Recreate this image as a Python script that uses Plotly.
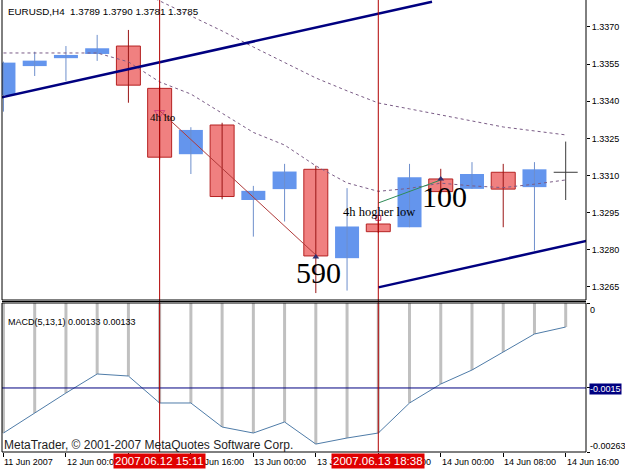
import plotly.graph_objects as go

W, H = 625, 469

# ---------------- data ----------------
bars = list(range(19))
opens = [1.33425, 1.33542, 1.33574, 1.33591, 1.33623, 1.33452, 1.33186, 1.33304, 1.33001, 1.33045,
         1.33125, 1.32766, 1.32904, 1.32891, 1.33086, 1.33046, 1.33113, 1.33053, 1.33113]
highs = [1.33560, 1.33600, 1.33623, 1.33668, 1.33688, 1.33460, 1.33295, 1.33313, 1.33058, 1.33147,
         1.33139, 1.33049, 1.32930, 1.33147, 1.33127, 1.33154, 1.33147, 1.33154, 1.33237]
lows = [1.33358, 1.33502, 1.33482, 1.33563, 1.33394, 1.33165, 1.33106, 1.33004, 1.32853, 1.32914,
        1.32625, 1.32635, 1.32868, 1.32891, 1.33028, 1.33046, 1.32891, 1.32797, 1.33001]
closes = [1.33556, 1.33564, 1.33587, 1.33614, 1.33465, 1.33174, 1.33284, 1.33015, 1.33038, 1.33116,
          1.32775, 1.32894, 1.32873, 1.33093, 1.33035, 1.33106, 1.33045, 1.33125, 1.33113]

ma_upper_bars = list(range(4, 19))
ma_upper = [1.33866, 1.33805, 1.33744, 1.33684, 1.33619, 1.33555, 1.33494, 1.33442, 1.33393,
            1.33369, 1.33345, 1.33320, 1.33296, 1.33280, 1.33264]
ma_lower = [1.33595, 1.33595, 1.33595, 1.33595, 1.33559, 1.33478, 1.33429, 1.33353, 1.33274, 1.33223,
            1.33139, 1.33070, 1.33036, 1.33048, 1.33069, 1.33058, 1.33051, 1.33065, 1.33082]

macd = [-0.002295, -0.001942, -0.001589, -0.001253, -0.001289, -0.001765, -0.001765, -0.002189,
        -0.002295, -0.002100, -0.002490, -0.002383, -0.002295, -0.001765, -0.001430, -0.001183,
        -0.000865, -0.000547, -0.000424]

time_tick_bars = [0, 2, 4, 6, 8, 10, 12, 14, 16, 18]
time_labels = ["11 Jun 2007", "12 Jun 00:00", "12 Jun 08:00", "12 Jun 16:00", "13 Jun 00:00",
               "13 Jun 08:00", "13 Jun 16:00", "14 Jun 00:00", "14 Jun 08:00", "14 Jun 16:00"]
price_ticks = [1.3265, 1.3280, 1.3295, 1.3310, 1.3325, 1.3340, 1.3355, 1.3370]
macd_levels = [0.0, -0.0015, -0.00263]
macd_level_labels = ["0", "-0.0015", "-0.00263"]

event_bars = [5, 12]
event_labels = ["2007.06.12 15:11", "2007.06.13 18:38"]

trend_upper_x = [-0.111, 13.72]
trend_upper_y = [1.33414, 1.33802]
trend_lower_x = [12.0, 18.7]
trend_lower_y = [1.32648, 1.32837]

link_red_x = [5, 10]
link_red_y = [1.33362, 1.32779]
link_green_x = [12, 14]
link_green_y = [1.32989, 1.33082]

notes = [("4h lto", 4.63, 1.33338, 11), ("4h hogher low", 10.82, 1.32952, 12.5),
         ("590", 10.1, 1.32707, 30), ("100", 14.12, 1.33015, 30)]

header = "EURUSD,H4\u00a0\u00a01.3789 1.3790 1.3781 1.3785"
macd_title = "MACD(5,13,1) 0.00133 0.00133"
copyright_text = "MetaTrader, © 2001-2007 MetaQuotes Software Corp."

# ---------------- layout helpers ----------------
def fx(px):
    return px / W

def fy(py):
    return 1 - py / H

X_L, X_R = 2, 586
TOP_B = 300
MACD_T, MACD_B = 303, 452
BODY_W = 0.768

BULL_FILL = "#6495ED"
BULL_WICK = "#6E8FCC"
BEAR_FILL = "#F08080"
BEAR_EDGE = "#B52222"
BEAR_WICK = "#9A1515"
DOJI = "#3A3A3A"
SANS = "Liberation Sans, Arial, sans-serif"
SERIF = "Liberation Serif, Times New Roman, serif"

fig = go.Figure()

# ---------------- MACD panel ----------------
fig.add_trace(go.Bar(x=bars, y=macd, base=0, width=0.096, marker=dict(color="#C0C0C0", line=dict(width=0)),
                     xaxis="x", yaxis="y2", hoverinfo="skip"))
fig.add_trace(go.Scatter(x=bars, y=macd, mode="lines", line=dict(color="#4F7CA8", width=1),
                         xaxis="x", yaxis="y2", hoverinfo="skip"))
fig.add_trace(go.Scatter(x=[-1, 20], y=[macd_levels[1], macd_levels[1]], mode="lines",
                         line=dict(color="#000080", width=1), xaxis="x", yaxis="y2", hoverinfo="skip"))

# ---------------- candles ----------------
def wick_xy(kind):
    xs, ys = [], []
    for i in bars:
        o, c = opens[i], closes[i]
        k = "doji" if o == c else ("bull" if c > o else "bear")
        if k == kind:
            xs += [i, i, None]
            ys += [lows[i], highs[i], None]
    return xs, ys

for kind, col in (("bull", BULL_WICK), ("bear", BEAR_WICK), ("doji", DOJI)):
    wx, wy = wick_xy(kind)
    fig.add_trace(go.Scatter(x=wx, y=wy, mode="lines", line=dict(color=col, width=1),
                             xaxis="x2", yaxis="y", hoverinfo="skip"))

bull_i = [i for i in bars if closes[i] > opens[i]]
bear_i = [i for i in bars if closes[i] < opens[i]]
doji_i = [i for i in bars if closes[i] == opens[i]]

fig.add_trace(go.Bar(x=bull_i, base=[opens[i] for i in bull_i], y=[closes[i] - opens[i] for i in bull_i],
                     width=BODY_W, marker=dict(color=BULL_FILL, line=dict(width=0)),
                     xaxis="x2", yaxis="y", hoverinfo="skip"))
fig.add_trace(go.Bar(x=bear_i, base=[closes[i] for i in bear_i], y=[opens[i] - closes[i] for i in bear_i],
                     width=BODY_W, marker=dict(color=BEAR_FILL, line=dict(color=BEAR_EDGE, width=1)),
                     xaxis="x2", yaxis="y", hoverinfo="skip"))
dx, dy = [], []
for i in doji_i:
    dx += [i - BODY_W / 2, i + BODY_W / 2, None]
    dy += [opens[i], opens[i], None]
fig.add_trace(go.Scatter(x=dx, y=dy, mode="lines", line=dict(color=DOJI, width=1),
                         xaxis="x2", yaxis="y", hoverinfo="skip"))

# moving averages (dashed)
fig.add_trace(go.Scatter(x=ma_upper_bars, y=ma_upper, mode="lines",
                         line=dict(color="#7A5C86", width=1, dash="3px,3px"),
                         xaxis="x2", yaxis="y", hoverinfo="skip"))
fig.add_trace(go.Scatter(x=bars, y=ma_lower, mode="lines",
                         line=dict(color="#7A5C86", width=1, dash="3px,3px"),
                         xaxis="x2", yaxis="y", hoverinfo="skip"))

# trend lines
fig.add_trace(go.Scatter(x=trend_upper_x, y=trend_upper_y, mode="lines", line=dict(color="#000080", width=2.5),
                         xaxis="x2", yaxis="y", hoverinfo="skip"))
fig.add_trace(go.Scatter(x=trend_lower_x, y=trend_lower_y, mode="lines", line=dict(color="#000080", width=2.5),
                         xaxis="x2", yaxis="y", hoverinfo="skip"))
fig.add_trace(go.Scatter(x=link_red_x, y=link_red_y, mode="lines", line=dict(color="#B03A3A", width=1),
                         xaxis="x2", yaxis="y", hoverinfo="skip"))
fig.add_trace(go.Scatter(x=link_green_x, y=link_green_y, mode="lines", line=dict(color="#2E8B57", width=1),
                         xaxis="x2", yaxis="y", hoverinfo="skip"))

# small arrow symbols
fig.add_trace(go.Scatter(x=[5], y=[1.33353], mode="markers",
                         marker=dict(symbol="triangle-down-open", size=9, color="#D0407A", line=dict(width=1)),
                         xaxis="x2", yaxis="y", hoverinfo="skip"))
fig.add_trace(go.Scatter(x=[10, 14], y=[1.32771, 1.33086], mode="markers",
                         marker=dict(symbol="triangle-up", size=6, color="#303070"),
                         xaxis="x2", yaxis="y", hoverinfo="skip"))
fig.add_trace(go.Scatter(x=[12], y=[1.32929], mode="markers",
                         marker=dict(symbol="square-open", size=5, color="#C03060", line=dict(width=1)),
                         xaxis="x2", yaxis="y", hoverinfo="skip"))

# ---------------- shapes ----------------
shapes = []
for b in event_bars:
    shapes.append(dict(type="line", xref="x", yref="paper", x0=b, x1=b, y0=fy(MACD_B), y1=1,
                       line=dict(color="#B00000", width=1), layer="above"))
for (x0, y0, x1, y1) in [
    (X_L, 0, X_L, TOP_B), (X_R, 0, X_R, TOP_B), (X_L, TOP_B, X_R, TOP_B),
    (X_L, MACD_T, X_R, MACD_T), (X_L, MACD_T, X_L, MACD_B), (X_R, MACD_T, X_R, MACD_B),
    (X_L, MACD_B, X_R, MACD_B), (X_L, TOP_B + 1.5, X_R, TOP_B + 1.5),
]:
    shapes.append(dict(type="line", xref="paper", yref="paper", x0=fx(x0), x1=fx(x1), y0=fy(y0), y1=fy(y1),
                       line=dict(color="black", width=1), layer="above"))

# ---------------- annotations ----------------
ann = []
ann.append(dict(text=header, xref="paper", yref="paper", x=fx(6), y=fy(11), xanchor="left", yanchor="middle",
                showarrow=False, font=dict(family=SANS, size=9.8, color="black")))
ann.append(dict(text=macd_title, xref="paper", yref="paper", x=fx(6), y=fy(322), xanchor="left",
                yanchor="middle", showarrow=False, font=dict(family=SANS, size=9, color="black")))
for t, bx, py, sz in notes:
    ann.append(dict(text=t, xref="x2", yref="y", x=bx, y=py, xanchor="left" if sz < 20 else "center",
                    yanchor="middle", showarrow=False, font=dict(family=SERIF, size=sz, color="black")))
ann.append(dict(text=copyright_text, xref="paper", yref="paper", x=fx(2), y=fy(445), xanchor="left",
                yanchor="middle", showarrow=False, font=dict(family=SANS, size=12, color="#1E1E1E")))
for b, lab in zip(time_tick_bars, time_labels):
    ann.append(dict(text=lab, xref="x", yref="paper", x=b, y=fy(461.5), xanchor="left", yanchor="middle",
                    xshift=-1, showarrow=False, font=dict(family=SANS, size=9, color="black")))
for b, lab in zip(event_bars, event_labels):
    ann.append(dict(text=lab, xref="x", yref="paper", x=b, y=fy(461), xanchor="center", yanchor="middle",
                    showarrow=False, bgcolor="#E00000", borderpad=1,
                    font=dict(family=SANS, size=11.5, color="white")))
# MACD scale labels
macd_label_py = [310, 388.5, 445.5]
for lv, lab, py in zip(macd_levels, macd_level_labels, macd_label_py):
    is_mid = lab == "-0.0015"
    ann.append(dict(text=lab, xref="paper", yref="paper", x=fx(589), y=fy(py), xanchor="left",
                    yanchor="middle", showarrow=False, borderpad=0,
                    bgcolor="#000080" if is_mid else "rgba(0,0,0,0)",
                    font=dict(family=SANS, size=9, color="white" if is_mid else "black")))

x_range = [-0.047, 18.65]
fig.update_layout(
    width=W, height=H, margin=dict(l=0, r=0, t=0, b=0),
    paper_bgcolor="white", plot_bgcolor="white",
    showlegend=False, barmode="overlay", hovermode=False,
    xaxis=dict(domain=[fx(X_L), fx(X_R)], range=x_range, anchor="y2", showticklabels=False,
               ticks="outside", ticklen=4, tickcolor="black", tickvals=time_tick_bars,
               showgrid=False, zeroline=False, showline=False, fixedrange=True),
    xaxis2=dict(domain=[fx(X_L), fx(X_R)], range=x_range, anchor="y", matches="x", showticklabels=False,
                ticks="", showgrid=False, zeroline=False, showline=False),
    yaxis=dict(domain=[fy(TOP_B), 1], range=[1.32597, 1.33809], anchor="x2", side="right",
               tickvals=price_ticks, tickformat=".4f", ticks="outside", ticklen=3, tickcolor="black",
               tickfont=dict(family=SANS, size=9, color="black"), showgrid=False, zeroline=False,
               showline=False, automargin=False),
    yaxis2=dict(domain=[fy(MACD_B), fy(MACD_T)], range=[-0.00263, 0], anchor="x", side="right",
                tickvals=macd_levels, showticklabels=False, ticks="outside", ticklen=3, tickcolor="black",
                showgrid=False, zeroline=False, showline=False, automargin=False),
    shapes=shapes, annotations=ann,
)

fig.write_html("out.html")
